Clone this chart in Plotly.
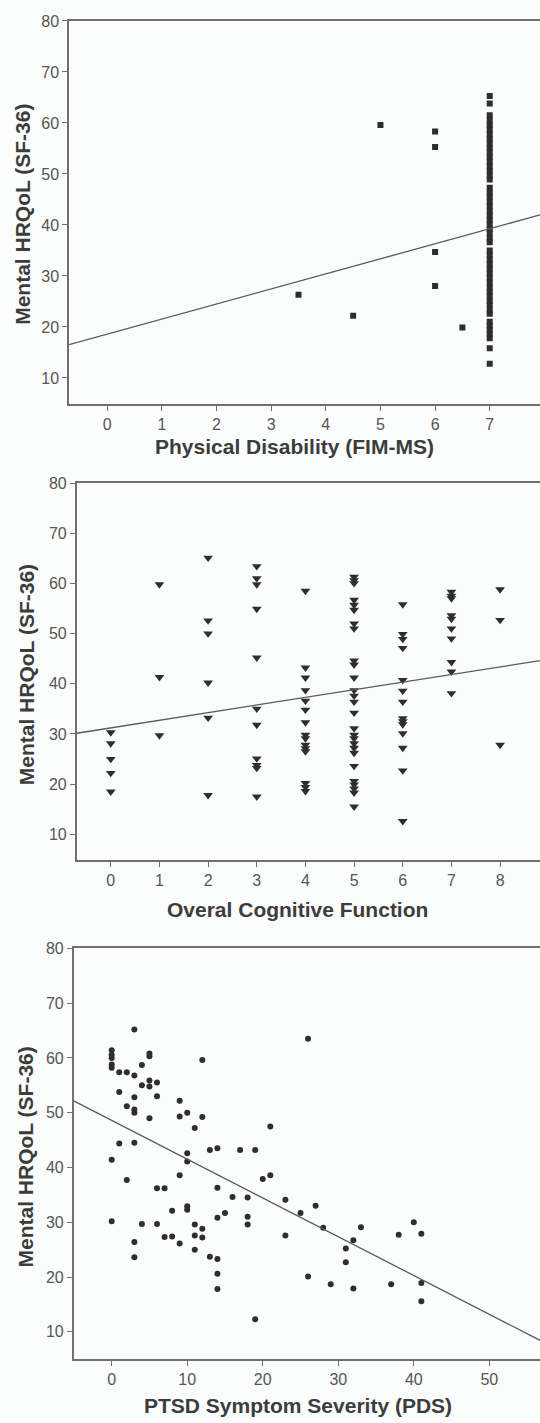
import plotly.graph_objects as go

# ---- Panel 1: physical disability (FIM-MS) vs mental HRQoL ----
fim_score = [3.5, 4.5, 5, 6, 6, 6, 6, 6.5,
             7, 7, 7, 7, 7, 7, 7, 7, 7, 7, 7, 7, 7, 7, 7, 7, 7, 7,
             7, 7, 7, 7, 7, 7, 7, 7, 7, 7, 7, 7, 7, 7, 7, 7, 7, 7,
             7, 7, 7, 7, 7, 7, 7, 7, 7, 7, 7, 7, 7, 7, 7, 7]
fim_hrqol = [26.3, 22.2, 59.6, 58.3, 55.3, 34.7, 28.0, 19.9,
             65.3, 63.8, 61.5, 60.5, 59.6, 58.7, 57.8, 56.9, 56.0, 55.1,
             54.2, 53.3, 52.4, 51.5, 50.6, 49.7, 48.9, 47.3, 46.4, 45.5,
             44.6, 43.7, 42.8, 41.9, 41.0, 40.1, 39.2, 38.3, 37.4, 36.6,
             35.0, 34.1, 33.2, 32.3, 31.4, 30.5, 29.6, 28.7, 27.8, 26.9,
             26.0, 25.1, 24.3, 23.2, 22.6, 21.0, 20.2, 19.4, 18.6, 17.8,
             15.8, 12.8]
fim_fit = (18.6, 2.95)  # intercept, slope

# ---- Panel 2: overall cognitive function vs mental HRQoL ----
cog_score = [0, 0, 0, 0, 0,
             1, 1, 1,
             2, 2, 2, 2, 2, 2,
             3, 3, 3, 3, 3, 3, 3, 3, 3, 3, 3,
             4, 4, 4, 4, 4, 4, 4, 4, 4, 4, 4, 4, 4, 4, 4,
             5, 5, 5, 5, 5, 5, 5, 5, 5, 5, 5, 5, 5, 5, 5, 5, 5, 5, 5, 5, 5,
             5, 5, 5, 5, 5, 5,
             6, 6, 6, 6, 6, 6, 6, 6, 6, 6, 6, 6, 6, 6,
             7, 7, 7, 7, 7, 7, 7, 7, 7, 7,
             8, 8, 8]
cog_hrqol = [30.3, 28.1, 25.0, 22.2, 18.5,
             59.8, 41.3, 29.7,
             65.1, 52.6, 50.0, 40.2, 33.2, 17.8,
             63.4, 61.0, 59.8, 54.9, 45.2, 35.0, 31.8, 25.1, 23.8, 23.2, 17.5,
             58.5, 43.2, 41.2, 38.7, 36.6, 34.8, 32.3, 29.8, 29.1, 27.8, 27.1,
             26.5, 20.2, 19.4, 18.6,
             61.3, 60.6, 60.0, 56.7, 55.7, 54.7, 52.0, 51.0, 44.6, 43.8, 41.2,
             38.7, 37.6, 36.4, 34.2, 31.1, 29.8, 29.1, 28.1, 27.2, 26.2, 23.6,
             20.6, 19.9, 19.1, 18.3, 15.5,
             55.8, 49.9, 48.9, 47.1, 40.7, 38.6, 36.4, 33.1, 32.5, 31.9, 30.1,
             27.2, 22.7, 12.6,
             58.3, 57.5, 57.0, 53.6, 52.9, 51.0, 49.0, 44.3, 42.4, 38.1,
             58.8, 52.7, 27.8]
cog_fit = (31.2, 1.52)

# ---- Panel 3: PTSD symptom severity (PDS) vs mental HRQoL ----
pds_score = [0, 0, 0, 0, 0, 1, 2, 3, 3, 4, 5, 5, 4, 5, 5, 6, 6, 1, 2, 3,
             3, 3, 5, 9, 9, 10, 12, 12, 11, 10, 10, 13, 14, 17, 19, 21, 26,
             1, 3, 0, 9, 2, 20, 21, 6, 7, 14, 16, 18, 23, 27, 8, 10, 10, 15,
             14, 18, 18, 25, 0, 4, 6, 11, 12, 28, 33, 40, 41, 38, 23, 7, 8,
             11, 12, 3, 9, 32, 11, 31, 3, 13, 14, 31, 14, 26, 29, 37, 41, 14,
             32, 41, 19]
pds_hrqol = [61.4, 60.6, 60.0, 58.8, 58.2, 57.4, 57.4, 65.2, 56.8, 58.7,
             60.8, 60.3, 55.0, 55.9, 54.8, 55.5, 53.0, 53.8, 51.2, 52.8,
             50.6, 50.0, 49.0, 52.2, 49.3, 50.0, 59.6, 49.2, 47.2, 42.6,
             41.1, 43.2, 43.5, 43.2, 43.2, 47.5, 63.5,
             44.4, 44.5, 41.4, 38.6, 37.7, 37.9, 38.6, 36.2, 36.2, 36.3, 34.6,
             34.5, 34.1, 33.0, 32.1, 32.9, 32.3, 31.7,
             30.8, 31.0, 29.6, 31.7, 30.2, 29.7, 29.7, 29.6, 28.8, 29.0, 29.1,
             30.0, 27.9, 27.7, 27.6, 27.3, 27.4,
             27.6, 27.2, 26.4, 26.1, 26.7, 25.0, 25.2, 23.6, 23.7, 23.3, 22.7,
             20.6, 20.1, 18.7, 18.7, 18.9, 17.8,
             17.9, 15.6, 12.3]
pds_fit = (48.6, -0.708)

# ---- shared axis settings ----
y_ticks = [10, 20, 30, 40, 50, 60, 70, 80]
fim_ticks = [0, 1, 2, 3, 4, 5, 6, 7]
cog_ticks = [0, 1, 2, 3, 4, 5, 6, 7, 8]
pds_ticks = [0, 10, 20, 30, 40, 50]

x_titles = ["Physical Disability (FIM-MS)", "Overal Cognitive Function",
            "PTSD Symptom Severity (PDS)"]
y_title = "Mental HRQoL (SF-36)"

W, H = 540, 1423
BG = "#fbfcfc"
INK = "#2e2e2e"
AXIS = "#707070"
TICK_FONT = dict(family="Liberation Sans, Arial, sans-serif", size=16, color="#555555")
TITLE_FONT = dict(family="Liberation Sans, Arial, sans-serif", size=21, color="#3c3c3c")

# pixel geometry of each plot box: left, top, bottom
boxes = [(69, 13, 398), (76.7, 477.7, 856.7), (73.7, 945.7, 1359)]
x_ranges = [(-0.70, 7.92), (-0.70, 8.82), (-5.03, 56.71)]
y_ranges = [(4.93, 80), (4.9, 80), (4.97, 80)]
x_title_pos = [(294, 441), (297, 906.7), (298, 1405)]
y_title_pos = [(23, 208), (26, 671), (26, 1156)]

fig = go.Figure()

panels = [
    (fim_score, fim_hrqol, fim_fit, fim_ticks, dict(symbol="square", size=6)),
    (cog_score, cog_hrqol, cog_fit, cog_ticks, dict(symbol="triangle-down", size=8.5)),
    (pds_score, pds_hrqol, pds_fit, pds_ticks, dict(symbol="circle", size=6)),
]

layout = dict(
    width=W, height=H,
    margin=dict(l=0, r=0, t=0, b=0),
    paper_bgcolor=BG, plot_bgcolor=BG,
    showlegend=False,
    annotations=[],
)

for i, (xs, ys, fit, xt, mk) in enumerate(panels):
    n = "" if i == 0 else str(i + 1)
    xa, ya = "x" + n, "y" + n
    left, top, bottom = boxes[i]
    x0, x1 = x_ranges[i]

    fig.add_trace(go.Scatter(
        x=xs, y=ys, mode="markers", xaxis=xa, yaxis=ya,
        marker=dict(color=INK, line=dict(width=0), **mk),
        cliponaxis=True,
    ))
    b0, b1 = fit
    fig.add_trace(go.Scatter(
        x=[x0, x1], y=[b0 + b1 * x0, b0 + b1 * x1], mode="lines",
        xaxis=xa, yaxis=ya, line=dict(color="#5a5a5a", width=1.3),
    ))

    layout["xaxis" + n] = dict(
        domain=[left / W, 1.0], range=[x0, x1], anchor=ya,
        tickvals=xt, ticks="outside", ticklen=5, tickwidth=1.3, tickcolor=AXIS,
        showline=True, linecolor=AXIS, linewidth=1.5, mirror=True,
        showgrid=False, zeroline=False, tickfont=TICK_FONT,
    )
    layout["yaxis" + n] = dict(
        domain=[1 - bottom / H, 1 - top / H], range=list(y_ranges[i]), anchor=xa,
        tickvals=y_ticks, ticks="outside", ticklen=5, tickwidth=1.3, tickcolor=AXIS,
        showline=True, linecolor=AXIS, linewidth=1.5, mirror=False,
        showgrid=False, zeroline=False, tickfont=TICK_FONT,
    )

    tx, ty = x_title_pos[i]
    layout["annotations"].append(dict(
        text="<b>%s</b>" % x_titles[i], x=tx / W, y=1 - ty / H,
        xref="paper", yref="paper", xanchor="center", yanchor="middle",
        showarrow=False, font=TITLE_FONT,
    ))
    vx, vy = y_title_pos[i]
    layout["annotations"].append(dict(
        text="<b>%s</b>" % y_title, x=vx / W, y=1 - vy / H, textangle=-90,
        xref="paper", yref="paper", xanchor="center", yanchor="middle",
        showarrow=False, font=TITLE_FONT,
    ))

fig.update_layout(**layout)
fig.write_html("out.html")
